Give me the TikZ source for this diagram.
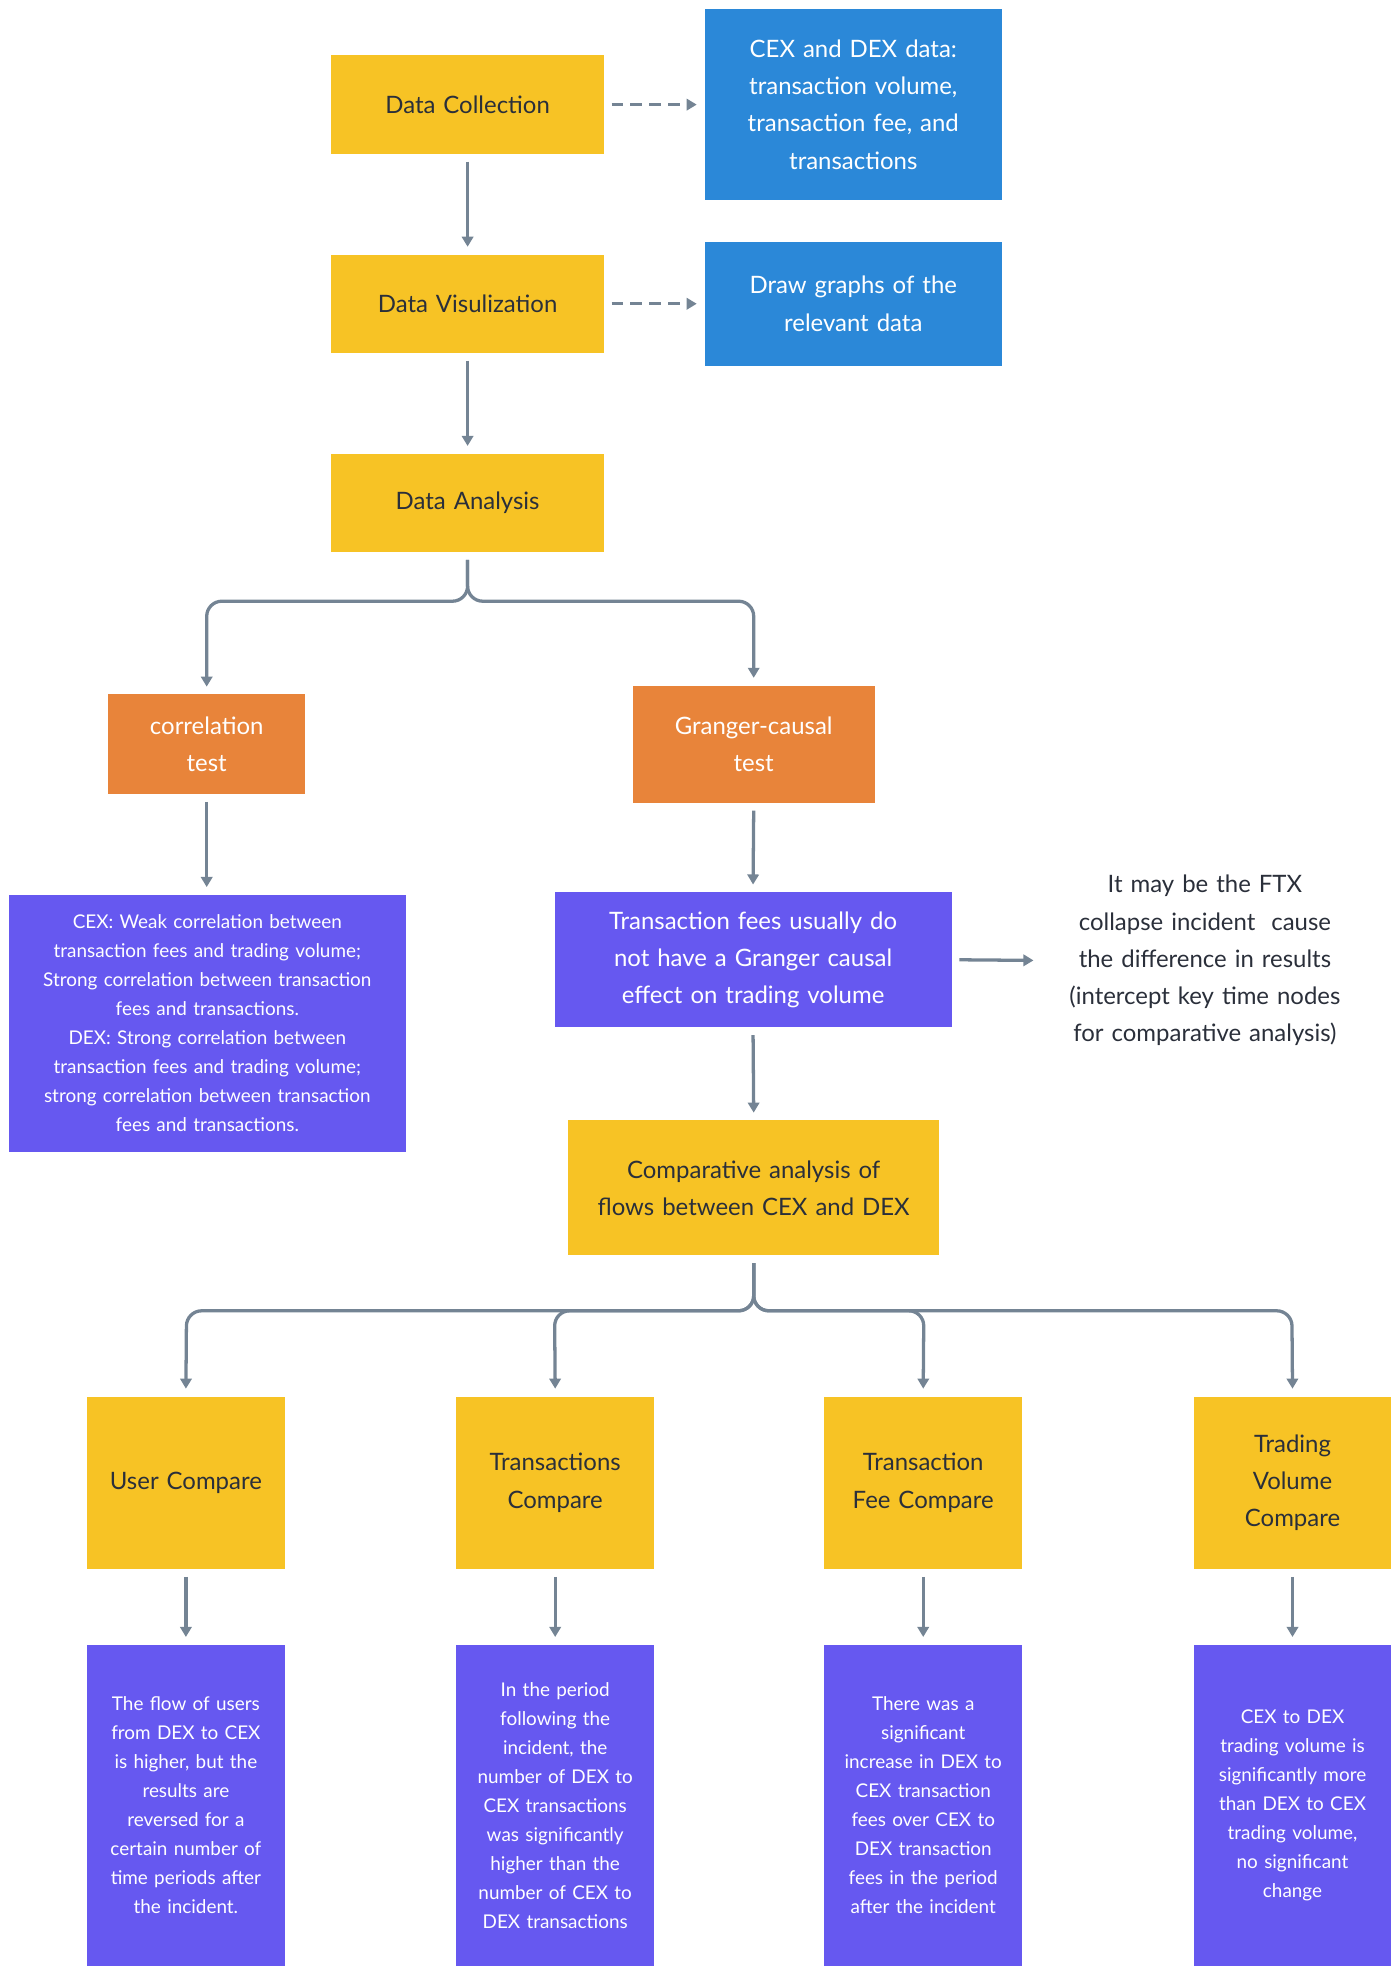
\documentclass[tikz,border=0pt]{standalone}
\usepackage{fontspec}
\setmainfont{Lato}
\usetikzlibrary{arrows.meta}
\definecolor{yel}{HTML}{F7C325}
\definecolor{blu}{HTML}{2B88D8}
\definecolor{org}{HTML}{E8843A}
\definecolor{pur}{HTML}{6658F0}
\definecolor{lin}{HTML}{748494}
\definecolor{txt}{HTML}{2A2F3A}
\begin{document}
\begin{tikzpicture}[x=1pt,y=-1pt,
  box/.style={inner sep=0pt,align=center,font=\fontsize{19}{29.5}\selectfont},
  yb/.style={box,fill=yel,text=txt},
  bb/.style={box,fill=blu,text=white},
  ob/.style={box,fill=org,text=white},
  pb/.style={box,fill=pur,text=white},
  sm/.style={font=\fontsize{15}{23}\selectfont},
  ar/.style={draw=lin,line width=2.6pt,-{Triangle[length=8pt,width=9pt]}},
  da/.style={ar,dash pattern=on 9pt off 6pt}]
\useasboundingbox (0,0) rectangle (1110,1567);
\newcommand\bx[7]{\node[#1,minimum width=#4-#2,minimum height=#5-#3,text width=#4-#2-8] (#6) at ({(#2+#4)/2},{(#3+#5)/2}) {#7};}
\bx{yb}{263}{44}{479}{122}{dc}{Data Collection}
\bx{bb}{559}{7}{795}{159}{cd}{CEX and DEX data:\\transaction volume,\\transaction fee, and\\transactions}
\bx{yb}{263}{202}{479}{280}{dv}{Data Visulization}
\bx{bb}{559}{192}{795}{290}{dg}{Draw graphs of the\\relevant data}
\bx{yb}{263}{360}{479}{438}{da}{Data Analysis}
\bx{ob}{86}{551}{242}{630}{ct}{correlation\\test}
\bx{ob}{502}{544}{694}{637}{gc}{Granger-causal\\test}
\bx{pb,sm}{7}{710}{322}{914}{cr}{CEX: Weak correlation between\\transaction fees and trading volume;\\Strong correlation between transaction\\fees and transactions.\\DEX: Strong correlation between\\transaction fees and trading volume;\\strong correlation between transaction\\fees and transactions.}
\bx{pb}{440}{708}{755}{815}{tf}{Transaction fees usually do\\not have a Granger causal\\effect on trading volume}
\node[box,text=txt,text width=260] (ftx) at (956,762) {It may be the FTX\\collapse incident\ \ cause\\the difference in results\\(intercept key time nodes\\for comparative analysis)};
\bx{yb}{451}{889}{745}{996}{cp}{Comparative analysis of\\flows between CEX and DEX}
\bx{yb}{69}{1108}{226}{1245}{u1}{User Compare}
\bx{yb}{362}{1108}{519}{1245}{u2}{Transactions\\Compare}
\bx{yb}{654}{1108}{811}{1245}{u3}{Transaction\\Fee Compare}
\bx{yb}{947}{1108}{1104}{1245}{u4}{Trading\\Volume\\Compare}
\bx{pb,sm}{69}{1305}{226}{1560}{p1}{The flow of users\\from DEX to CEX\\is higher, but the\\results are\\reversed for a\\certain number of\\time periods after\\the incident.}
\bx{pb,sm}{362}{1305}{519}{1560}{p2}{In the period\\following the\\incident, the\\number of DEX to\\CEX transactions\\was significantly\\higher than the\\number of CEX to\\DEX transactions}
\bx{pb,sm}{654}{1305}{811}{1560}{p3}{There was a\\significant\\increase in DEX to\\CEX transaction\\fees over CEX to\\DEX transaction\\fees in the period\\after the incident}
\bx{pb,sm}{947}{1305}{1104}{1560}{p4}{CEX to DEX\\trading volume is\\significantly more\\than DEX to CEX\\trading volume,\\no significant\\change}
\draw[da] ([xshift=6pt]dc.east) -- ([xshift=-6pt]dc.east -| cd.west);
\draw[da] ([xshift=6pt]dv.east) -- ([xshift=-6pt]dv.east -| dg.west);
\draw[ar] ([yshift=-6pt]dc.south) -- ([yshift=6pt]dv.north);
\draw[ar] ([yshift=-6pt]dv.south) -- ([yshift=6pt]da.north);
\draw[ar,rounded corners=12pt] ([yshift=-6pt]da.south) -- (371,477) -- (164,477) -- ([yshift=6pt]ct.north);
\draw[ar,rounded corners=12pt] ([yshift=-6pt]da.south) -- (371,477) -- (598,477) -- ([yshift=6pt]gc.north);
\draw[ar] ([yshift=-6pt]ct.south) -- ([yshift=6pt]cr.north -| ct.south);
\draw[ar] ([yshift=-6pt]gc.south) -- ([yshift=6pt]tf.north);
\draw[ar] ([xshift=6pt]tf.east) -- (820,762);
\draw[ar] ([yshift=-6pt]tf.south) -- ([yshift=6pt]cp.north);
\foreach \t/\x in {u1/148,u2/440,u3/733,u4/1025}{
  \draw[ar,rounded corners=12pt] ([yshift=-6pt]cp.south) -- (598,1040) -- (\x,1040) -- ([yshift=6pt]\t.north);}
\foreach \a/\b in {u1/p1,u2/p2,u3/p3,u4/p4}{
  \draw[ar] ([yshift=-6pt]\a.south) -- ([yshift=6pt]\b.north);}
\end{tikzpicture}
\end{document}
